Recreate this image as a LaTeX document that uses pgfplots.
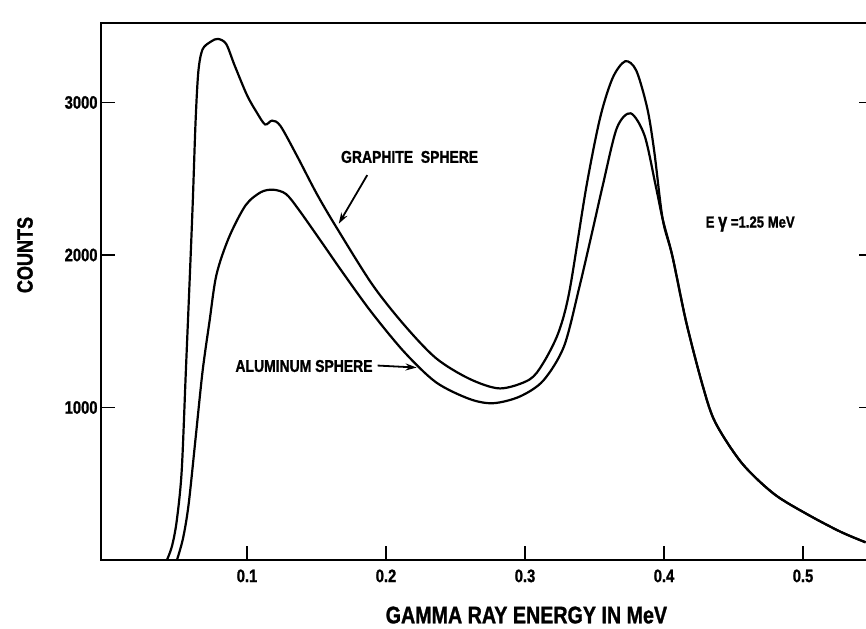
\documentclass[border=0pt]{standalone}
\usepackage{fontspec}
\setmainfont{Liberation Sans}[FakeStretch=0.82, BoldFeatures={FakeBold=1.2}]
\usepackage{pgfplots}
\pgfplotsset{compat=1.18}
\usetikzlibrary{arrows.meta}

% graphite sphere spectrum (counts vs MeV)
\pgfplotstableread{
x      y
0.0424 0
0.046  90
0.0494 254
0.053  582
0.056  1237
0.059  1893
0.061  2352
0.063  2876
0.065  3204
0.068  3348
0.074  3399
0.079  3417
0.085  3384
0.091  3245
0.100  3048
0.107  2935
0.113  2856
0.118  2881
0.124  2847
0.136  2649
0.150  2404
0.164  2186
0.190  1808
0.213  1542
0.236  1323
0.260  1188
0.282  1125
0.303  1182
0.313  1290
0.324  1490
0.332  1765
0.344  2441
0.354  2899
0.363  3160
0.372  3270
0.380  3210
0.388  2960
0.393  2677
0.399  2236
0.406  1993
0.416  1558
0.428  1137
0.437  900
0.456  635
0.479  434
0.503  300
0.527  185
0.545  116
}\graphite

% aluminum sphere spectrum, joins the graphite curve past the peak
\pgfplotstableread{
x      y
0.0496 0
0.054  143
0.058  365
0.063  798
0.068  1235
0.073  1563
0.078  1870
0.087  2115
0.099  2326
0.110  2412
0.119  2428
0.128  2400
0.137  2300
0.154  2080
0.168  1896
0.189  1631
0.213  1365
0.236  1165
0.260  1056
0.277  1028
0.296  1071
0.313  1175
0.328  1400
0.339  1786
0.349  2178
0.356  2459
0.366  2831
0.376  2929
0.386  2783
0.394  2454
0.399  2236
0.406  1993
0.416  1558
0.428  1137
0.437  900
0.456  635
0.479  434
0.503  300
0.527  185
0.545  116
}\aluminum

\begin{document}
\begin{tikzpicture}
\begin{axis}[
    x=1390pt, y=0.1525pt,
    xmin=-0.005, xmax=0.55,
    ymin=0, ymax=3520,
    clip=false,
    axis line style={line width=2.2pt},
    tick align=inside,
    xtick pos=bottom, ytick pos=both,
    major tick length=14pt,
    tick style={line width=1.8pt, black},
    xtick={0.1,0.2,0.3,0.4,0.5},
    ytick={1000,2000,3000},
    scaled x ticks=false, scaled y ticks=false,
    /pgf/number format/assume math mode=true,
    /pgf/number format/1000 sep={},
    tick label style={font=\fontsize{18}{20}\selectfont\bfseries},
    xticklabel shift=6pt,
]
\addplot[black, line width=2.2pt, smooth, tension=0.5] table {\graphite};
\addplot[black, line width=2.2pt, smooth, tension=0.5] table {\aluminum};

\node[font=\fontsize{17}{20}\selectfont\bfseries] at (axis cs:0.217,2643) {GRAPHITE\ \ SPHERE};
\draw[line width=1.8pt, -{Stealth[length=11pt,width=7pt]}] (axis cs:0.1865,2524) -- (axis cs:0.166,2205);

\node[font=\fontsize{17}{20}\selectfont\bfseries] at (axis cs:0.141,1272) {ALUMINUM SPHERE};
\draw[line width=1.8pt, -{Stealth[length=11pt,width=7pt]}] (axis cs:0.194,1275) -- (axis cs:0.222,1262);

\node[font=\fontsize{16}{20}\selectfont\bfseries] at (axis cs:0.462,2203) {E {\fontsize{20}{20}\selectfont γ} =1.25 MeV};

\node[font=\fontsize{24}{26}\selectfont\bfseries] at (axis cs:0.301,-361) {GAMMA RAY ENERGY IN MeV};
\node[font=\fontsize{22}{24}\selectfont\bfseries, rotate=90] at (axis cs:-0.0597,2000) {COUNTS};

\coordinate (bbl) at (axis cs:-0.0777,-446);
\coordinate (btr) at (axis cs:0.5453,3672);
\end{axis}
\pgfresetboundingbox
\path[use as bounding box] (bbl) rectangle (btr);
\end{tikzpicture}
\end{document}
